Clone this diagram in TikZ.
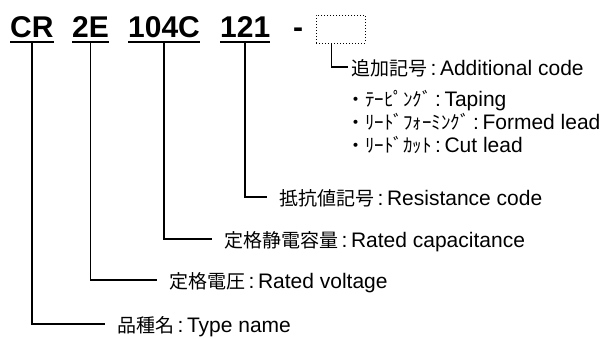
\documentclass[tikz,border=0pt]{standalone}
\usepackage{fontspec}
\setmainfont{Liberation Sans}
\newfontfamily\jp{Noto Sans CJK JP}
\usetikzlibrary{positioning}
\NewDocumentCommand{\PartLabel}{m m}{{\jp\fontsize{19}{23}\selectfont #1}\,:\,#2}

\begin{document}
\begin{tikzpicture}[x=1pt, y=-1pt,
    code/.style={anchor=base west, inner xsep=0pt, inner ysep=5pt, font=\fontsize{30}{36}\selectfont\bfseries},
    lead/.style={line width=1.6pt},
    desc/.style={anchor=west, inner xsep=12pt, inner ysep=0pt, text height=20pt, text depth=4pt, font=\fontsize{21}{25}\selectfont}]

    \useasboundingbox (0,0) rectangle (608,338);

    % part number
    \node[code] (cr) at (10,37) {CR};
    \node[code] (volt) at (72,37) {2E};
    \node[code] (cap) at (128,37) {104C};
    \node[code] (res) at (220,37) {121};
    \node[code] (dash) at (293,37) {-};
    \node[draw, dotted, line width=1pt, minimum width=49pt, minimum height=28pt] (addbox) at (340.5,29) {};
    \foreach \n in {cr,volt,cap,res}
        \draw[line width=2pt] (\n.south west) -- (\n.south east);

    % descriptions
    \node[desc] (typename) at (105,324) {\PartLabel{品種名}{Type name}};
    \node[desc] (ratedv) at (157,280) {\PartLabel{定格電圧}{Rated voltage}};
    \node[desc] (ratedc) at (212,239) {\PartLabel{定格静電容量}{Rated capacitance}};
    \node[desc] (rescode) at (267,197) {\PartLabel{抵抗値記号}{Resistance code}};
    \node[desc, inner xsep=3pt] (addcode) at (348,67) {\PartLabel{追加記号}{Additional code}};
    \node[desc, inner xsep=0pt] (taping) at (346,98) {\PartLabel{・ﾃｰﾋﾟﾝｸﾞ}{Taping}};
    \node[desc, inner xsep=0pt] (formed) at (346,121) {\PartLabel{・ﾘｰﾄﾞﾌｫｰﾐﾝｸﾞ}{Formed lead}};
    \node[desc, inner xsep=0pt] (cut) at (346,144) {\PartLabel{・ﾘｰﾄﾞｶｯﾄ}{Cut lead}};

    % leaders
    \draw[lead] (cr.south) |- (typename.west);
    \draw[lead] (volt.south) |- (ratedv.west);
    \draw[lead] (cap.south) |- (ratedc.west);
    \draw[lead] (res.south) |- (rescode.west);
    \draw[lead] ([xshift=-9pt]addbox.south) |- (addcode.west);
\end{tikzpicture}
\end{document}
